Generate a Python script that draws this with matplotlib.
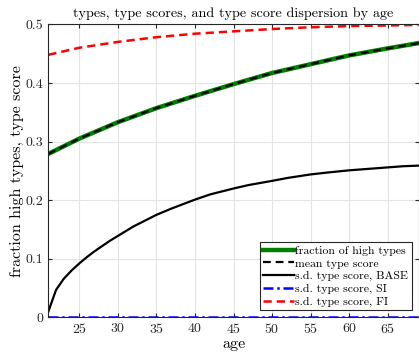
import matplotlib
matplotlib.use("Agg")
import matplotlib.pyplot as plt

plt.rcParams["font.family"] = ["cmr10"]
plt.rcParams["mathtext.fontset"] = "cm"
plt.rcParams["axes.formatter.use_mathtext"] = True

# values
ages_mean = [21, 25, 30, 35, 40, 45, 50, 55, 60, 65, 69]
frac_high = [0.279, 0.305, 0.333, 0.357, 0.378, 0.398, 0.417, 0.432, 0.447, 0.459, 0.468]
mean_score = [0.279, 0.305, 0.333, 0.357, 0.378, 0.398, 0.417, 0.432, 0.447, 0.459, 0.468]

ages_base = [21, 22, 23, 24, 25, 26, 27, 28, 29, 30, 32, 35, 37, 40, 42, 45, 47, 50,
             52, 55, 57, 60, 62, 65, 67, 69]
sd_base = [0.010, 0.047, 0.066, 0.080, 0.092, 0.103, 0.113, 0.122, 0.131, 0.139, 0.155,
           0.175, 0.186, 0.201, 0.210, 0.220, 0.226, 0.233, 0.238, 0.244, 0.247, 0.251,
           0.253, 0.256, 0.258, 0.259]

ages_si = [21, 69]
sd_si = [0.0, 0.0]

ages_fi = [21, 25, 30, 35, 40, 45, 50, 55, 60, 65, 69]
sd_fi = [0.448, 0.460, 0.470, 0.478, 0.484, 0.488, 0.492, 0.495, 0.497, 0.498, 0.499]

fig = plt.figure(figsize=(4.19, 3.53), dpi=100)
ax = fig.add_axes([0.1153, 0.1006, 0.884, 0.8305])

ax.plot(ages_mean, frac_high, color=(0, 0.5, 0), lw=3.2, label="fraction of high types")
ax.plot(ages_mean, mean_score, color="k", lw=1.6, ls=(0, (3.5, 2.2)), label="mean type score")
ax.plot(ages_base, sd_base, color="k", lw=1.6, label="s.d. type score, BASE")
ax.plot(ages_si, sd_si, color="b", lw=1.8, ls=(0, (4, 1.5, 1, 1.5)), label="s.d. type score, SI")
ax.plot(ages_fi, sd_fi, color="r", lw=1.8, ls=(0, (3.3, 2.0)), label="s.d. type score, FI")

ax.set_xlim(21, 69)
ax.set_ylim(0, 0.5)
ax.set_xticks(range(25, 70, 5))
ax.set_yticks([0, 0.1, 0.2, 0.3, 0.4, 0.5])
ax.set_yticklabels(["0", "0.1", "0.2", "0.3", "0.4", "0.5"])
ax.grid(True, color="#e3e3e3", lw=0.8)
ax.set_axisbelow(True)
ax.tick_params(direction="in", top=True, right=True, labelsize=10, colors="#262626", length=3)
for s in ax.spines.values():
    s.set_color("#262626")
    s.set_linewidth(0.8)

ax.set_title("types, type scores, and type score dispersion by age", fontsize=10.2, pad=5)
ax.set_xlabel("age", fontsize=11.5, labelpad=1)
ax.set_ylabel("fraction high types, type score", fontsize=11.5, labelpad=1)

leg = ax.legend(loc="lower right", fontsize=8.5, handlelength=2.6, handletextpad=0.1,
                borderaxespad=0.6, labelspacing=0.2, fancybox=False, framealpha=1,
                edgecolor="#262626", borderpad=0.3)
leg.get_frame().set_linewidth(0.8)

fig.savefig("out.png", dpi=100)
